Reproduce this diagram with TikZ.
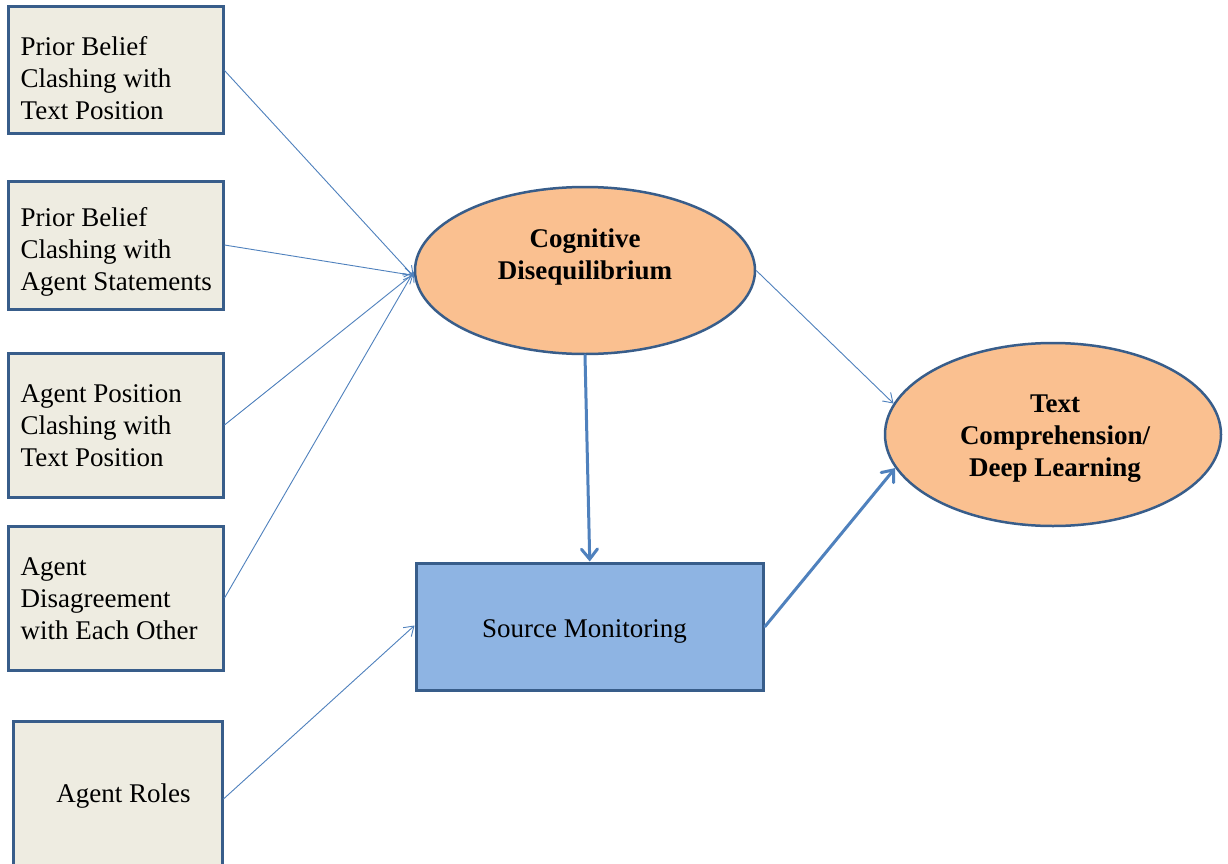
\documentclass[tikz,border=0pt]{standalone}
\usepackage{fontspec}
\setmainfont{Liberation Serif}
\usetikzlibrary{arrows.meta,shapes.geometric}
\definecolor{boxfill}{HTML}{EEECE1}
\definecolor{edge}{HTML}{385D8A}
\definecolor{ovalfill}{HTML}{FAC090}
\definecolor{smfill}{HTML}{8EB4E3}
\definecolor{conn}{HTML}{4F81BD}
\tikzset{
  inbox/.style={draw=edge,line width=3pt,fill=boxfill,rectangle,inner sep=0pt,minimum width=215pt},
  oval/.style={draw=edge,line width=2.5pt,fill=ovalfill,ellipse,inner sep=0pt},
  lbl/.style={font=\fontsize{27}{32}\selectfont,align=left,inner sep=0pt},
  blbl/.style={font=\fontsize{27}{32}\selectfont\bfseries,align=center,inner sep=0pt},
  thin/.style={draw=conn,line width=0.9pt,-{Straight Barb[length=9pt,width=12pt]}},
  thick/.style={draw=conn,line width=3pt,line cap=round,-{Straight Barb[length=10pt,width=16pt,line cap=round]}}
}
\begin{document}
\begin{tikzpicture}[x=1pt,y=-1pt]
\useasboundingbox (0,0) rectangle (1228,864);
\fill[white] (0,0) rectangle (1228,864);
\clip (0,0) rectangle (1228,864);
% left boxes
\node[inbox,minimum height=127pt] (b1) at (115.5,70.5) {};
\node[inbox,minimum height=128pt] (b2) at (115.5,245) {};
\node[inbox,minimum height=144pt] (b3) at (115.5,425) {};
\node[inbox,minimum height=144pt] (b4) at (115.5,598) {};
\node[inbox,minimum width=209pt,minimum height=150pt] (b5) at (117.5,796) {};
\node[lbl,anchor=west] (t1) at ([xshift=14pt,yshift=-7.5pt]b1.west) {Prior Belief\\Clashing with\\Text Position};
\node[lbl,anchor=west] (t2) at ([xshift=14pt,yshift=-7pt]b2.west) {Prior Belief\\Clashing with\\Agent Statements};
\node[lbl,anchor=west] (t3) at ([xshift=14pt,yshift=-1pt]b3.west) {Agent Position\\Clashing with\\Text Position};
\node[lbl,anchor=west] (t4) at ([xshift=14pt,yshift=-1pt]b4.west) {Agent\\Disagreement\\with Each Other};
\node[lbl] (t5) at (123.5,796) {Agent Roles};
% ovals
\node[oval,minimum width=340pt,minimum height=167pt] (e1) at (585,270.5) {};
\node[blbl] (te1) at (585,257.5) {Cognitive\\Disequilibrium};
\node[oval,minimum width=336pt,minimum height=183pt] (e2) at (1053,434.5) {};
\node[blbl] (te2) at (1055,438.5) {Text\\Comprehension/\\Deep Learning};
% source monitoring
\node[draw=edge,line width=3pt,fill=smfill,rectangle,inner sep=0pt,minimum width=347.5pt,minimum height=127pt] (sm) at (589.75,626.5) {};
\node[lbl] (tsm) at (584.5,631) {Source Monitoring};
% connectors
\draw[thin] (b1.east) -- ([yshift=-6pt]e1.west);
\draw[thin] (b2.east) -- ([yshift=-5pt]e1.west);
\draw[thin] (b3.east) -- ([yshift=-3pt]e1.west);
\draw[thin] (b4.east) -- ([yshift=-1pt]e1.west);
\draw[thin] ([yshift=-3pt]b5.east) -- ([yshift=1pt]sm.west);
\draw[thin] (e1.east) -- (e2.169);
\draw[thick] (e1.south) -- (sm.north);
\draw[thick] (sm.east) -- (e2.192);
\end{tikzpicture}
\end{document}
